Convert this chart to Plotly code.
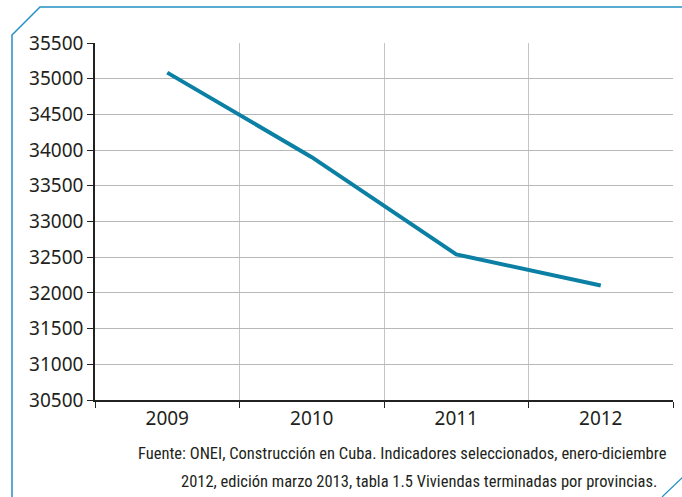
import plotly.graph_objects as go

# Viviendas terminadas en Cuba
years = ['2009', '2010', '2011', '2012']
viviendas = [35085, 33901, 32540, 32103]

y_min, y_max, y_step = 30500, 35500, 500

note_line1 = 'Fuente: ONEI, Construcción en Cuba. Indicadores seleccionados, enero-diciembre'
note_line2 = '2012, edición marzo 2013, tabla 1.5 Viviendas terminadas por provincias.'

W, H = 682, 497
L, R, T, B = 95, 9, 43, 97
frame_color = '#2290c2'
text_color = '#231f20'
note_font = 'Liberation Sans Narrow, Roboto Condensed, Liberation Sans'


def px(x):
    # pixel -> paper x
    return (x - L) / (W - L - R)


def py(y):
    # pixel -> paper y
    return (H - B - y) / (H - T - B)


fig = go.Figure()

fig.add_trace(go.Scatter(
    x=years,
    y=viviendas,
    mode='lines',
    line=dict(color='#0b80a4', width=4),
    showlegend=False
))

# frame with clipped corners
frame = (f'M {px(12)},{py(497)} L {px(12)},{py(35)} L {px(40)},{py(7)} '
         f'L {px(682)},{py(7)}')
fig.add_shape(type='path', path=frame, xref='paper', yref='paper',
              line=dict(color=frame_color, width=1.5))
fig.add_shape(type='line', xref='paper', yref='paper',
              x0=px(662), y0=py(497), x1=px(683), y1=py(477),
              line=dict(color=frame_color, width=1.2))

fig.add_annotation(text=note_line1, xref='paper', yref='paper',
                   x=px(403), y=py(454), showarrow=False,
                   xanchor='center', yanchor='middle',
                   font=dict(family=note_font, size=16.5, color=text_color))
fig.add_annotation(text=note_line2, xref='paper', yref='paper',
                   x=px(419), y=py(481), showarrow=False,
                   xanchor='center', yanchor='middle',
                   font=dict(family=note_font, size=16.5, color=text_color))

fig.update_layout(
    width=W, height=H,
    margin=dict(l=L, r=R, t=T, b=B),
    paper_bgcolor='white',
    plot_bgcolor='white',
    font=dict(family='Noto Sans, Open Sans, sans-serif', size=19, color=text_color),
    xaxis=dict(
        type='category',
        tickson='boundaries',
        ticks='outside', ticklen=6, tickcolor='#222', tickwidth=1.2,
        showline=True, linecolor='#222', linewidth=1.5,
        showgrid=True, gridcolor='#c4c4c4', gridwidth=1.2,
        range=[-0.5, 3.5],
        fixedrange=True,
    ),
    yaxis=dict(
        range=[y_min, y_max],
        dtick=y_step,
        tick0=y_min,
        ticks='outside', ticklen=6, tickcolor='#222', tickwidth=1.2,
        showline=True, linecolor='#222', linewidth=1.5,
        showgrid=True, gridcolor='#b8b8b8', gridwidth=1.2,
        zeroline=False,
        tickformat='d',
        fixedrange=True,
    ),
)

fig.write_html("out.html", config={'displayModeBar': False},
               post_script="document.body.style.margin='0';")
